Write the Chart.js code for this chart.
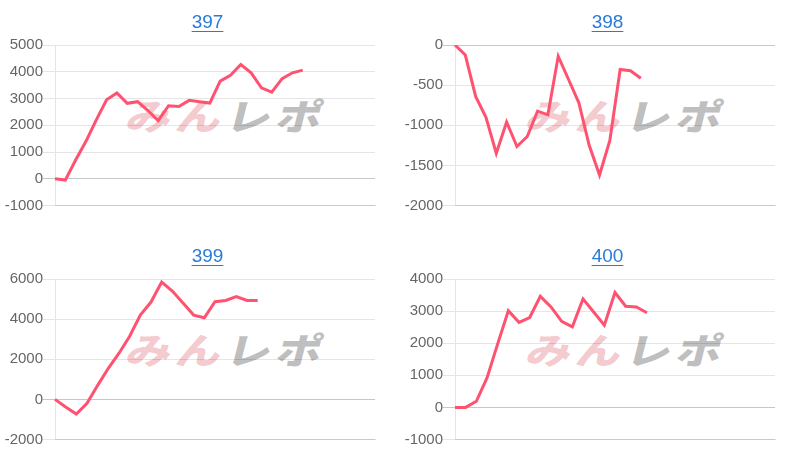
<!DOCTYPE html>
<html>
<head>
<meta charset="utf-8">
<script src="https://cdn.jsdelivr.net/npm/chart.js@4/dist/chart.umd.min.js"></script>
<style>
  html, body { margin: 0; padding: 0; background: #fff; }
  #wrap { position: relative; width: 800px; height: 467px; overflow: hidden; }
  .panel { position: absolute; width: 400px; height: 233px; }
  .panel canvas { position: absolute; left: 0; top: 0; z-index: 2; }
  .ttl { position: absolute; left: 0; width: 415px; top: 10px; text-align: center; z-index: 3;
         font-family: Arial, "Liberation Sans", sans-serif; font-size: 19px; line-height: 24px; }
  .ttl a { color: #2a7bd6; text-decoration: underline; text-underline-offset: 3px; text-decoration-thickness: 1px; }
  .wm { position: absolute; left: 128px; top: 94px; width: 210px; height: 42px; z-index: 1;
        font-family: "Noto Sans CJK JP", sans-serif; font-weight: 900; font-size: 45px; line-height: 42px;
        white-space: nowrap; transform: skewX(-14deg) scaleY(0.8); transform-origin: left center; letter-spacing: 5px; }
  .wm .p { color: rgba(222, 90, 100, 0.32); }
  .wm .g { color: rgba(110, 110, 110, 0.45); }
</style>
</head>
<body>
<div id="wrap">
  <div class="panel" style="left:0;top:0"><div class="ttl"><a href="#">397</a></div><div class="wm"><span class="p">みん</span><span class="g">レポ</span></div><canvas id="c397" width="400" height="233"></canvas></div>
  <div class="panel" style="left:400px;top:0"><div class="ttl"><a href="#">398</a></div><div class="wm"><span class="p">みん</span><span class="g">レポ</span></div><canvas id="c398" width="400" height="233"></canvas></div>
  <div class="panel" style="left:0;top:234px"><div class="ttl"><a href="#">399</a></div><div class="wm"><span class="p">みん</span><span class="g">レポ</span></div><canvas id="c399" width="400" height="233"></canvas></div>
  <div class="panel" style="left:400px;top:234px"><div class="ttl"><a href="#">400</a></div><div class="wm"><span class="p">みん</span><span class="g">レポ</span></div><canvas id="c400" width="400" height="233"></canvas></div>
</div>
<script>
// x categories (no visible labels in the reference)
const labels32 = [1,2,3,4,5,6,7,8,9,10,11,12,13,14,15,16,17,18,19,20,21,22,23,24,25,26,27,28,29,30,31,32];
const labels31 = [1,2,3,4,5,6,7,8,9,10,11,12,13,14,15,16,17,18,19,20,21,22,23,24,25,26,27,28,29,30,31];

// series values
const values397 = [0, -50, 700, 1400, 2200, 2950, 3210, 2820, 2880, 2550, 2170, 2730, 2700, 2930, 2880, 2830, 3650, 3870, 4270, 3960, 3400, 3240, 3740, 3960, 4060];
const values398 = [0, -125, -640, -900, -1350, -960, -1265, -1140, -825, -870, -140, -430, -720, -1250, -1620, -1190, -305, -320, -415];
const values399 = [0, -380, -730, -200, 700, 1550, 2300, 3150, 4200, 4850, 5850, 5400, 4800, 4200, 4070, 4870, 4930, 5120, 4930, 4930];
const values400 = [0, 0, 190, 920, 1980, 3010, 2650, 2800, 3460, 3130, 2680, 2510, 3380, 2970, 2560, 3580, 3150, 3130, 2950];

// y tick settings
const yMin397 = -1000, yMax397 = 5000, yStep397 = 1000;
const yMin398 = -2000, yMax398 = 0, yStep398 = 500;
const yMin399 = -2000, yMax399 = 6000, yStep399 = 2000;
const yMin400 = -1000, yMax400 = 4000, yStep400 = 1000;

const LINE = 'rgb(255, 82, 112)';

function make(id, labels, values, yMin, yMax, yStep) {
  new Chart(document.getElementById(id), {
    type: 'line',
    data: {
      labels: labels,
      datasets: [{
        data: values,
        borderColor: LINE,
        backgroundColor: LINE,
        borderWidth: 3,
        pointRadius: 0,
        pointHoverRadius: 0,
        tension: 0,
        fill: false
      }]
    },
    options: {
      responsive: false,
      animation: false,
      devicePixelRatio: 1,
      layout: { padding: { top: 45, bottom: 27.5, left: 5, right: 25 } },
      plugins: { legend: { display: false }, title: { display: false }, tooltip: { enabled: false } },
      scales: {
        x: {
          ticks: { display: false },
          grid: { display: true, drawOnChartArea: false, drawTicks: false },
          border: { display: true, color: 'rgba(0,0,0,0.12)' }
        },
        y: {
          min: yMin, max: yMax,
          afterFit: function (scale) { scale.width = 50; },
          ticks: {
            stepSize: yStep,
            padding: 0,
            color: '#666',
            font: { family: 'Arial, "Liberation Sans", sans-serif', size: 15 },
            callback: function (v) { return String(v); }
          },
          grid: {
            tickLength: 12,
            color: function (ctx) { return ctx.tick && ctx.tick.value === 0 ? 'rgba(0,0,0,0.22)' : 'rgba(0,0,0,0.1)'; }
          },
          border: { display: true, color: 'rgba(0,0,0,0.1)' }
        }
      }
    }
  });
}

make('c397', labels32, values397, yMin397, yMax397, yStep397);
make('c398', labels32, values398, yMin398, yMax398, yStep398);
make('c399', labels31, values399, yMin399, yMax399, yStep399);
make('c400', labels31, values400, yMin400, yMax400, yStep400);
</script>
</body>
</html>
